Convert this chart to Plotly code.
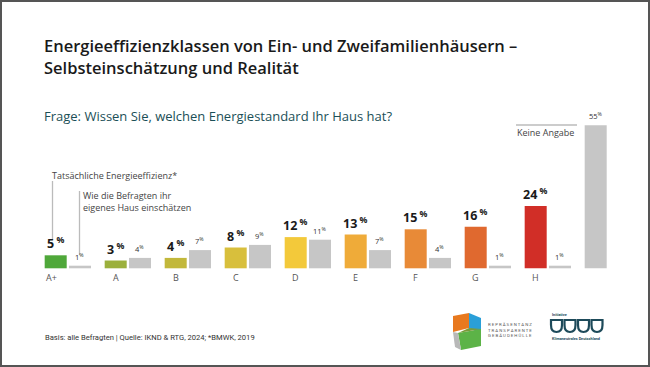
import plotly.graph_objects as go

# ---- data ----
categories = ["A+", "A", "B", "C", "D", "E", "F", "G", "H"]
actual = [5, 3, 4, 8, 12, 13, 15, 16, 24]            # Tatsächliche Energieeffizienz
self_assessed = [1, 4, 7, 9, 11, 7, 4, 1, 1]          # Selbsteinschätzung
no_answer_label = "Keine Angabe"
no_answer_value = 55
class_colors = ["#4fa83a", "#9bb03c", "#c2b83b", "#d8bf3c", "#f3c93a",
                "#efab39", "#e88a37", "#e0692f", "#d12e27"]
gray = "#c6c6c6"

W, H = 650, 367
BAR_W = 0.367
OFF_COL = -0.387
OFF_GRAY = 0.018

def px(x):
    return x / W

def py(y):
    return 1 - y / H

n = len(categories)
xs = list(range(n))
gray_x = xs + [n]
gray_vals = self_assessed + [no_answer_value]
gray_off = [OFF_GRAY] * n + [OFF_COL]

fig = go.Figure()
fig.add_trace(go.Bar(x=xs, y=actual, width=BAR_W, offset=OFF_COL,
                     marker=dict(color=class_colors, line=dict(width=0)),
                     hoverinfo="skip", showlegend=False))
fig.add_trace(go.Bar(x=gray_x, y=gray_vals, width=BAR_W, offset=gray_off,
                     marker=dict(color=gray, line=dict(width=0)),
                     hoverinfo="skip", showlegend=False))

ann = []
FONT = "Open Sans"
# value labels
for i, v in enumerate(actual):
    ann.append(dict(x=i + OFF_COL + BAR_W / 2, y=v, xref="x", yref="y",
                    text=f"<b>{v}</b><sup><b> %</b></sup>", showarrow=False,
                    yanchor="bottom", yshift=1,
                    font=dict(family=FONT, size=12.5, color="#1a1a1a")))
for i, v in enumerate(gray_vals):
    ann.append(dict(x=gray_x[i] + gray_off[i] + BAR_W / 2, y=v, xref="x", yref="y",
                    text=f"{v}<sup>%</sup>", showarrow=False,
                    yanchor="bottom", yshift=2,
                    font=dict(family=FONT, size=7.5, color="#333333")))
# category labels
for i, c in enumerate(categories):
    ann.append(dict(x=i + OFF_COL + BAR_W / 2 - (0.07 if c == "A+" else 0), y=0,
                    xref="x", yref="y", text=c, showarrow=False,
                    yanchor="top", yshift=-1,
                    font=dict(family=FONT, size=9, color="#555555")))

# titles
ann.append(dict(x=px(42), y=py(46), xref="paper", yref="paper", xanchor="left", yanchor="middle",
                text="Energieeffizienzklassen von Ein- und Zweifamilienhäusern –", showarrow=False,
                font=dict(family=FONT, size=16.5, color="#1a1a1a", weight=600)))
ann.append(dict(x=px(42), y=py(67), xref="paper", yref="paper", xanchor="left", yanchor="middle",
                text="Selbsteinschätzung und Realität", showarrow=False,
                font=dict(family=FONT, size=16.5, color="#1a1a1a", weight=600)))
ann.append(dict(x=px(42), y=py(116), xref="paper", yref="paper", xanchor="left", yanchor="middle",
                text="Frage: Wissen Sie, welchen Energiestandard Ihr Haus hat?", showarrow=False,
                font=dict(family=FONT, size=13, color="#1b4f57")))
# legend-like callouts
ann.append(dict(x=px(50), y=py(175), xref="paper", yref="paper", xanchor="left", yanchor="middle",
                text="Tatsächliche Energieeffizienz*", showarrow=False,
                font=dict(family=FONT, size=9, color="#444444")))
ann.append(dict(x=px(81), y=py(201.5), xref="paper", yref="paper", xanchor="left", yanchor="middle",
                text="Wie die Befragten ihr<br>eigenes Haus einschätzen", showarrow=False, align="left",
                font=dict(family=FONT, size=9, color="#444444")))
ann.append(dict(x=px(515), y=py(132.5), xref="paper", yref="paper", xanchor="left", yanchor="middle",
                text=no_answer_label, showarrow=False,
                font=dict(family=FONT, size=9, color="#444444")))
# footer
ann.append(dict(x=px(43), y=py(337), xref="paper", yref="paper", xanchor="left", yanchor="middle",
                text="Basis: alle Befragten | Quelle: IKND & RTG, 2024; *BMWK, 2019", showarrow=False,
                font=dict(family="Liberation Sans Narrow, Roboto", size=7.6, color="#333333")))
# logo texts
ann.append(dict(x=px(486), y=py(330), xref="paper", yref="paper", xanchor="left", yanchor="middle",
                text="R E P R Ä S E N T A N Z<br>T R A N S P A R E N T E<br>G E B Ä U D E H Ü L L E",
                showarrow=False, align="left",
                font=dict(family="Roboto", size=4.3, color="#555555")))
ann.append(dict(x=px(550), y=py(314.5), xref="paper", yref="paper", xanchor="left", yanchor="middle",
                text="<b>Initiative</b>", showarrow=False,
                font=dict(family="Roboto", size=3.8, color="#1d4a5a")))
ann.append(dict(x=px(550), y=py(338.5), xref="paper", yref="paper", xanchor="left", yanchor="middle",
                text="<b>Klimaneutrales Deutschland</b>", showarrow=False,
                font=dict(family="Roboto", size=3.8, color="#1d4a5a")))

shapes = []
def pline(x0, y0, x1, y1, color="#bbbbbb", w=1.3):
    shapes.append(dict(type="line", xref="paper", yref="paper",
                       x0=px(x0), y0=py(y0), x1=px(x1), y1=py(y1),
                       line=dict(color=color, width=w)))

pline(52.5, 181, 52.5, 240)
pline(79.5, 191, 79.5, 255)
pline(516, 125, 577, 125)

def ppath(points, color):
    d = "M " + " L ".join(f"{px(x)},{py(y)}" for x, y in points) + " Z"
    shapes.append(dict(type="path", xref="paper", yref="paper", path=d,
                       fillcolor=color, line=dict(width=0)))

# cube logo
ppath([(453, 316), (469, 313), (469, 328), (453, 332)], "#e8791f")
ppath([(469, 313), (481, 318), (481, 334), (469, 328)], "#2a9fd8")
ppath([(458, 333), (481, 329), (481, 346), (461, 350)], "#5cb347")
ppath([(453, 332), (458, 333), (461, 350), (455, 347)], "#b8b8b8")
ppath([(458, 333), (469, 328), (481, 329)], "#7a9a3a")

# DDDD-like logo glyphs
for k in range(4):
    x0 = 551 + k * 13.5
    d = (f"M {px(x0)},{py(325)} L {px(x0)},{py(320)} L {px(x0 + 11)},{py(320)} "
         f"Q {px(x0 + 11)},{py(320)} {px(x0 + 11)},{py(325)} "
         f"M {px(x0)},{py(325)} Q {px(x0)},{py(332)} {px(x0 + 5.5)},{py(332)} "
         f"Q {px(x0 + 11)},{py(332)} {px(x0 + 11)},{py(325)}")
    shapes.append(dict(type="path", xref="paper", yref="paper", path=d,
                       line=dict(color="#1d4a5a", width=2.2)))

# frame
shapes.append(dict(type="rect", xref="paper", yref="paper", x0=px(1), y0=py(1), x1=px(649), y1=py(366),
                   line=dict(color="#555555", width=2)))

fig.update_layout(
    width=W, height=H,
    margin=dict(l=0, r=0, t=0, b=0),
    paper_bgcolor="white", plot_bgcolor="white",
    barmode="overlay",
    xaxis=dict(range=[-67.9 / 60, (W - 67.9) / 60], visible=False, fixedrange=True),
    yaxis=dict(range=[-(H - 268.3) / 2.6, 268.3 / 2.6], visible=False, fixedrange=True),
    annotations=ann, shapes=shapes,
    font=dict(family=FONT),
)

fig.write_html("out.html", config={"displayModeBar": False},
               post_script="document.body.style.margin='0px';document.body.style.overflow='hidden';")
